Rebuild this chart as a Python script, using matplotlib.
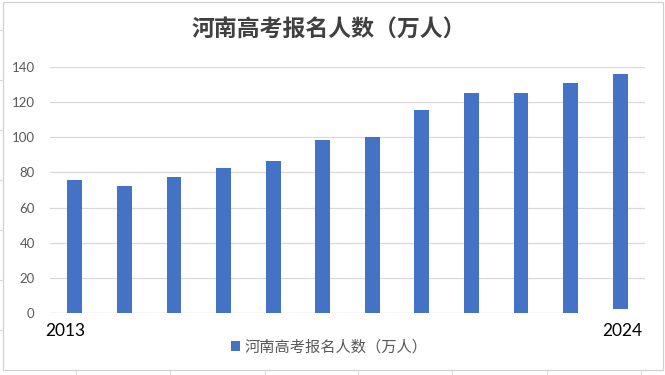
import matplotlib
matplotlib.use("Agg")
import matplotlib.pyplot as plt
from matplotlib.lines import Line2D
from matplotlib.patches import Rectangle

years = [2013, 2014, 2015, 2016, 2017, 2018, 2019, 2020, 2021, 2022, 2023, 2024]
values = [75.5, 72.4, 77.2, 82.3, 86.6, 98.3, 100.0, 115.8, 125.0, 125.0, 131.0, 136.0]
bases = [0, 0, 0, 0, 0, 0, 0, 0, 0, 0, 0, 2.3]
shown_labels = {0: "2013", 11: "2024"}
yticks = [0, 20, 40, 60, 80, 100, 120, 140]
title = "河南高考报名人数（万人）"

plt.rcParams['font.family'] = ['Lato', 'Noto Sans CJK SC', 'DejaVu Sans']

W, H = 665, 375
fig = plt.figure(figsize=(W / 100, H / 100), dpi=100)
fig.patch.set_facecolor('white')

def fx(px):
    return px / W

def fy(py):
    return 1 - py / H

# spreadsheet background lines outside the chart frame
for xx in [76, 170, 265, 358, 452, 547, 641]:
    fig.add_artist(Line2D([fx(xx), fx(xx)], [fy(371), fy(375)], color='#dcdcdc', lw=0.8))
for yy in [30, 80, 130, 180, 230, 280, 330]:
    fig.add_artist(Line2D([fx(0), fx(3)], [fy(yy), fy(yy)], color='#dcdcdc', lw=0.8))
# chart frame
fig.add_artist(Rectangle((fx(3), fy(370)), fx(663) - fx(3), fy(2) - fy(370),
                         fill=False, edgecolor='#d0d0d0', lw=0.9))

left, right = 50, 645
top, bottom = 67, 313
ax = fig.add_axes([fx(left), fy(bottom), fx(right) - fx(left), fy(top) - fy(bottom)])
ax.set_facecolor('none')

x = list(range(len(years)))
heights = [v - b for v, b in zip(values, bases)]
ax.bar(x, heights, bottom=bases, width=0.30, color='#4472C4', zorder=3,
       label=title)

ax.set_xlim(-0.5, len(years) - 0.5)
ax.set_ylim(0, 140)
ax.set_yticks(yticks)
ax.set_yticklabels([str(t) for t in yticks])
for t in yticks[1:]:
    ax.axhline(t, color='#d9d9d9', lw=0.9, zorder=1)
ax.axhline(0, xmin=0, xmax=(580 - left) / (right - left), color='#d9d9d9', lw=1.0, zorder=1)

for s in ax.spines.values():
    s.set_visible(False)
ax.tick_params(axis='y', length=0, pad=11, labelsize=9.5, labelcolor='#595959')
ax.tick_params(axis='x', length=0, labelbottom=False)

label_px = {0: 65, 11: 622}
for i, lab in shown_labels.items():
    fig.text(fx(label_px[i]), fy(331), lab, ha='center', va='center', fontsize=12.5, color='black')

fig.text(fx(329), fy(30), title, ha='center', va='center', fontsize=16.5,
         fontweight='bold', color='#404040', family=['Noto Sans CJK SC', 'DejaVu Sans'])

leg = fig.legend(loc='center', bbox_to_anchor=(fx(329), fy(347)), frameon=False,
                 handlelength=0.6, handleheight=0.6, handletextpad=0.3,
                 prop={'family': ['Noto Sans CJK SC', 'DejaVu Sans'], 'size': 11})
for t in leg.get_texts():
    t.set_color('#595959')

fig.savefig('out.png', dpi=100)
